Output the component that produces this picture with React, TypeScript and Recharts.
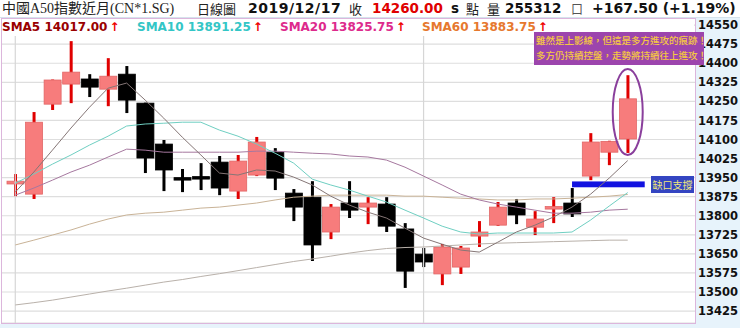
import React from "react";
import {
  ComposedChart,
  Bar,
  Line,
  XAxis,
  YAxis,
  CartesianGrid,
  ReferenceLine,
  ReferenceArea,
  ReferenceDot,
} from "recharts";

// -------------------------------
// Daily candles
// -------------------------------
const dates = [
  "10/31", "11/01", "11/04", "11/05", "11/06", "11/07", "11/08", "11/11",
  "11/12", "11/13", "11/14", "11/15", "11/18", "11/19", "11/20", "11/21",
  "11/22", "11/25", "11/26", "11/27", "11/28", "11/29", "12/02", "12/03",
  "12/04", "12/05", "12/06", "12/09", "12/10", "12/11", "12/12", "12/13",
  "12/16", "12/17",
];
const opens = [
  13925, 13885, 14239, 14318, 14338, 14298, 14357, 14243, 14082, 13950, 13954,
  14011, 13897, 13960, 14050, 13889, 13873, 13736, 13850, 13834, 13846, 13748,
  13649, 13571, 13598, 13720, 13763, 13850, 13755, 13832, 13850, 13956, 14050,
  14102,
];
const highs = [
  13964, 14208, 14336, 14487, 14357, 14420, 14389, 14245, 14098, 13984, 14007,
  14035, 14039, 14110, 14066, 13905, 13936, 13846, 13936, 13873, 13873, 13771,
  13673, 13689, 13681, 13779, 13854, 13866, 13818, 13873, 13909, 14125, 14095,
  14353,
];
const lows = [
  13877, 13866, 14216, 14243, 14267, 14231, 14204, 13968, 13897, 13893, 13901,
  13881, 13866, 13956, 13901, 13779, 13622, 13708, 13791, 13767, 13736, 13516,
  13598, 13527, 13571, 13677, 13760, 13767, 13724, 13771, 13795, 13940, 13999,
  14047,
];
const closes = [
  13936, 14168, 14334, 14365, 14306, 14349, 14255, 14027, 13980, 13946, 13950,
  13909, 14015, 14090, 13948, 13834, 13685, 13834, 13822, 13850, 13759, 13582,
  13618, 13677, 13673, 13736, 13834, 13803, 13787, 13836, 13807, 14090, 14092.5,
  14260,
];

// -------------------------------
// Moving averages
// -------------------------------
const sma5 = [
  13893, 13972, 14058, 14145, 14227, 14302, 14322, 14255, 14184, 14109, 14039,
  13968, 13960, 13980, 13976, 13952, 13921, 13877, 13842, 13814, 13791, 13751,
  13712, 13688, 13665, 13657, 13696, 13736, 13763, 13795, 13834, 13885, 13948,
  14017,
];
const sma10 = [
  13928, 13964, 14003, 14039, 14078, 14113, 14153, 14161, 14164, 14168, 14168,
  14137, 14113, 14082, 14046, 14007, 13944, 13921, 13901, 13877, 13854, 13822,
  13791, 13759, 13736, 13728, 13732, 13732, 13732, 13732, 13736, 13783, 13838,
  13891.25,
];
const sma20 = [
  13881, 13909, 13940, 13972, 13999, 14031, 14062, 14058, 14050, 14050, 14050,
  14050, 14050, 14054, 14054, 14050, 14046, 14043, 14035, 14031, 14019, 13991,
  13956, 13921, 13885, 13862, 13846, 13834, 13822, 13810, 13810, 13814, 13822,
  13825.75,
];
const sma60 = [
  13685, 13704, 13724, 13744, 13767, 13787, 13803, 13810, 13814, 13822, 13830,
  13834, 13842, 13850, 13862, 13873, 13877, 13881, 13881, 13881, 13881, 13877,
  13877, 13873, 13869, 13866, 13862, 13862, 13866, 13866, 13869, 13873, 13877,
  13883.75,
];
const sma120 = [
  13449, 13458, 13468, 13480, 13492, 13504, 13515, 13527, 13539, 13549, 13561,
  13572, 13584, 13596, 13608, 13620, 13630, 13641, 13653, 13663, 13671, 13675,
  13677, 13681, 13685, 13689, 13692, 13694, 13696, 13698, 13700, 13702, 13704,
  13704,
];

const yTicks = [
  13425, 13500, 13575, 13650, 13725, 13800, 13875, 13950, 14025, 14100, 14175,
  14250, 14325, 14400, 14475, 14550,
];

const rows = dates.map((date, i) => ({
  date,
  open: opens[i],
  high: highs[i],
  low: lows[i],
  close: closes[i],
  range: [lows[i], highs[i]],
  sma5: sma5[i],
  sma10: sma10[i],
  sma20: sma20[i],
  sma60: sma60[i],
  sma120: sma120[i],
}));

const LATIN = "'DejaVu Sans', Verdana, sans-serif";
const CJK = "'Noto Sans CJK TC', 'Noto Sans CJK SC', sans-serif";
const SERIF = "'Liberation Serif', 'Noto Sans CJK TC', serif";
const LIGHT_BLUE = "#e7f3fb";

// draws wick + body inside the [low, high] bar
const Candle = (props: any) => {
  const { x, y, width, height, payload } = props;
  const { open, close, high, low } = payload;
  const top = Math.min(y, y + height);
  const h = Math.abs(height);
  const span = high - low || 1;
  const py = (v: number) => top + ((high - v) / span) * h;
  const up = close >= open;
  const cx = x + width / 2;
  const bodyTop = py(Math.max(open, close));
  const bodyBottom = py(Math.min(open, close));
  const bodyH = Math.max(bodyBottom - bodyTop, 2.5);
  return (
    <g>
      <line
        x1={cx}
        x2={cx}
        y1={top}
        y2={top + h}
        stroke={up ? "#e00000" : "#000"}
        strokeWidth={3}
      />
      <rect
        x={x}
        y={bodyTop}
        width={width}
        height={bodyH}
        fill={up ? "#f77c7c" : "#000"}
        stroke={up ? "#e26666" : "#000"}
        strokeWidth={0.8}
      />
    </g>
  );
};

const abs = (left: number, top: number, extra: React.CSSProperties = {}) =>
  ({
    position: "absolute",
    left,
    top,
    whiteSpace: "nowrap",
    ...extra,
  }) as React.CSSProperties;

export default function App() {
  const t1 = { fontSize: 14, lineHeight: "17px", color: "#222" };
  const num = { fontFamily: LATIN, fontWeight: 700, fontSize: 13.5, lineHeight: "17px", color: "#111" };
  const sma = { fontFamily: LATIN, fontWeight: 700, fontSize: 12, lineHeight: "15px" };
  const arrow = <span style={{ color: "#ee0000", marginLeft: 2 }}>↑</span>;

  return (
    <div
      style={{
        position: "absolute",
        left: 0,
        top: 0,
        width: 740,
        height: 328,
        background: "#fff",
        overflow: "hidden",
      }}
    >
      <div style={abs(695, 18, { width: 45, height: 310, background: LIGHT_BLUE })} />
      <div style={abs(0, 324, { width: 740, height: 4, background: LIGHT_BLUE })} />

      <div style={{ position: "absolute", left: 0, top: 0 }}>
        <ComposedChart
          width={740}
          height={328}
          data={rows}
          margin={{ top: 18, right: 0, bottom: 5, left: 2 }}
        >
          <CartesianGrid vertical={false} stroke="#dedede" strokeWidth={1.2} />
          <XAxis
            dataKey="date"
            hide
            padding={{ left: 4, right: 58 }}
          />
          <YAxis
            orientation="right"
            width={45}
            domain={[13378, 14578]}
            ticks={yTicks}
            interval={0}
            axisLine={false}
            tickLine={false}
            tickSize={0}
            tickMargin={3}
            tick={{ fill: "#111", fontSize: 11.5, fontWeight: 700, fontFamily: LATIN }}
          />
          <ReferenceLine x={dates[0]} stroke="#d6d6d6" strokeWidth={1.2} />
          <ReferenceLine x={dates[22]} stroke="#d6d6d6" strokeWidth={1.2} />

          <Bar
            dataKey="range"
            barSize={17}
            shape={Candle}
            isAnimationActive={false}
          />

          <Line type="linear" dataKey="sma120" stroke="#b9b1aa" strokeWidth={1} dot={false} isAnimationActive={false} />
          <Line type="linear" dataKey="sma60" stroke="#c9b397" strokeWidth={1} dot={false} isAnimationActive={false} />
          <Line type="linear" dataKey="sma20" stroke="#a6789f" strokeWidth={1} dot={false} isAnimationActive={false} />
          <Line type="linear" dataKey="sma10" stroke="#6fcfc2" strokeWidth={1} dot={false} isAnimationActive={false} />
          <Line type="linear" dataKey="sma5" stroke="#857676" strokeWidth={1} dot={false} isAnimationActive={false} />

          <ReferenceArea
            x1={dates[30]}
            x2={dates[33]}
            y1={13912}
            y2={13935}
            shape={(p: any) => {
              const band = p.width / 4;
              return (
                <rect
                  x={p.x + band / 2}
                  y={p.y}
                  width={band * 3 + 17}
                  height={p.height}
                  fill="#1212e0"
                />
              );
            }}
          />
          <ReferenceDot
            x={dates[33]}
            y={14208}
            shape={(p: any) => (
              <ellipse
                cx={p.cx}
                cy={p.cy}
                rx={15}
                ry={43}
                fill="none"
                stroke="#8a3f9c"
                strokeWidth={2}
              />
            )}
          />
        </ComposedChart>
      </div>

      {/* plot frame */}
      <div
        style={abs(1, 18, {
          width: 695,
          height: 306,
          boxSizing: "border-box",
          border: "1px solid #dcb6dc",
          pointerEvents: "none",
        })}
      />

      {/* title row */}
      <div style={abs(0, 17, { width: 740, height: 1, background: "#d5e3ec" })} />
      <span style={abs(2, 0, { ...t1, fontFamily: SERIF })}>中國A50指數近月(CN*1.SG)</span>
      <span style={abs(197, 0, { ...t1, fontFamily: CJK, fontSize: 13 })}>日線圖</span>
      <span style={abs(248, 0, { ...num, fontSize: 14, letterSpacing: 0.5 })}>2019/12/17</span>
      <span style={abs(349, 0, { ...t1, fontFamily: CJK, fontSize: 13 })}>收</span>
      <span style={abs(372, 0, { ...num, color: "#e00000" })}>14260.00</span>
      <span style={abs(451, 0, { ...num })}>s</span>
      <span style={abs(466, 0, { ...t1, fontFamily: CJK, fontSize: 13 })}>點</span>
      <span style={abs(487, 0, { ...t1, fontFamily: CJK, fontSize: 13 })}>量</span>
      <span style={abs(505, 0, { ...num })}>255312</span>
      <span style={abs(571, 0, { ...t1, fontFamily: CJK, fontSize: 12, color: "#555" })}>口</span>
      <span style={abs(592, 0, { ...num, fontSize: 14 })}>+167.50 (+1.19%)</span>

      {/* moving-average legend row */}
      <div style={abs(2, 19, { width: 692, height: 17, background: "#fff" })} />
      <span style={abs(2, 20, { ...sma, color: "#990000" })}>SMA5 14017.00{arrow}</span>
      <span style={abs(137, 20, { ...sma, color: "#33c6c6" })}>SMA10 13891.25{arrow}</span>
      <span style={abs(280, 20, { ...sma, color: "#dd2a8c" })}>SMA20 13825.75{arrow}</span>
      <span style={abs(422, 20, { ...sma, color: "#e6782e" })}>SMA60 13883.75{arrow}</span>

      {/* comment box */}
      <div
        style={abs(534, 32, {
          width: 170,
          height: 33,
          background: "#9c45ad",
          color: "#f5c842",
          fontFamily: CJK,
          fontSize: 9.5,
          fontWeight: 500,
          lineHeight: "15px",
          padding: "1px 0 0 2px",
          boxSizing: "border-box",
        })}
      >
        <div>雖然是上影線，但這是多方進攻的痕跡！</div>
        <div>多方仍持續控盤，走勢將持續往上進攻！</div>
      </div>

      {/* gap label */}
      <div
        style={abs(651, 176, {
          width: 43,
          height: 17,
          background: "#3445c2",
          color: "#f2ea7a",
          fontFamily: CJK,
          fontSize: 10,
          lineHeight: "17px",
          textAlign: "center",
        })}
      >
        缺口支撐
      </div>
    </div>
  );
}
